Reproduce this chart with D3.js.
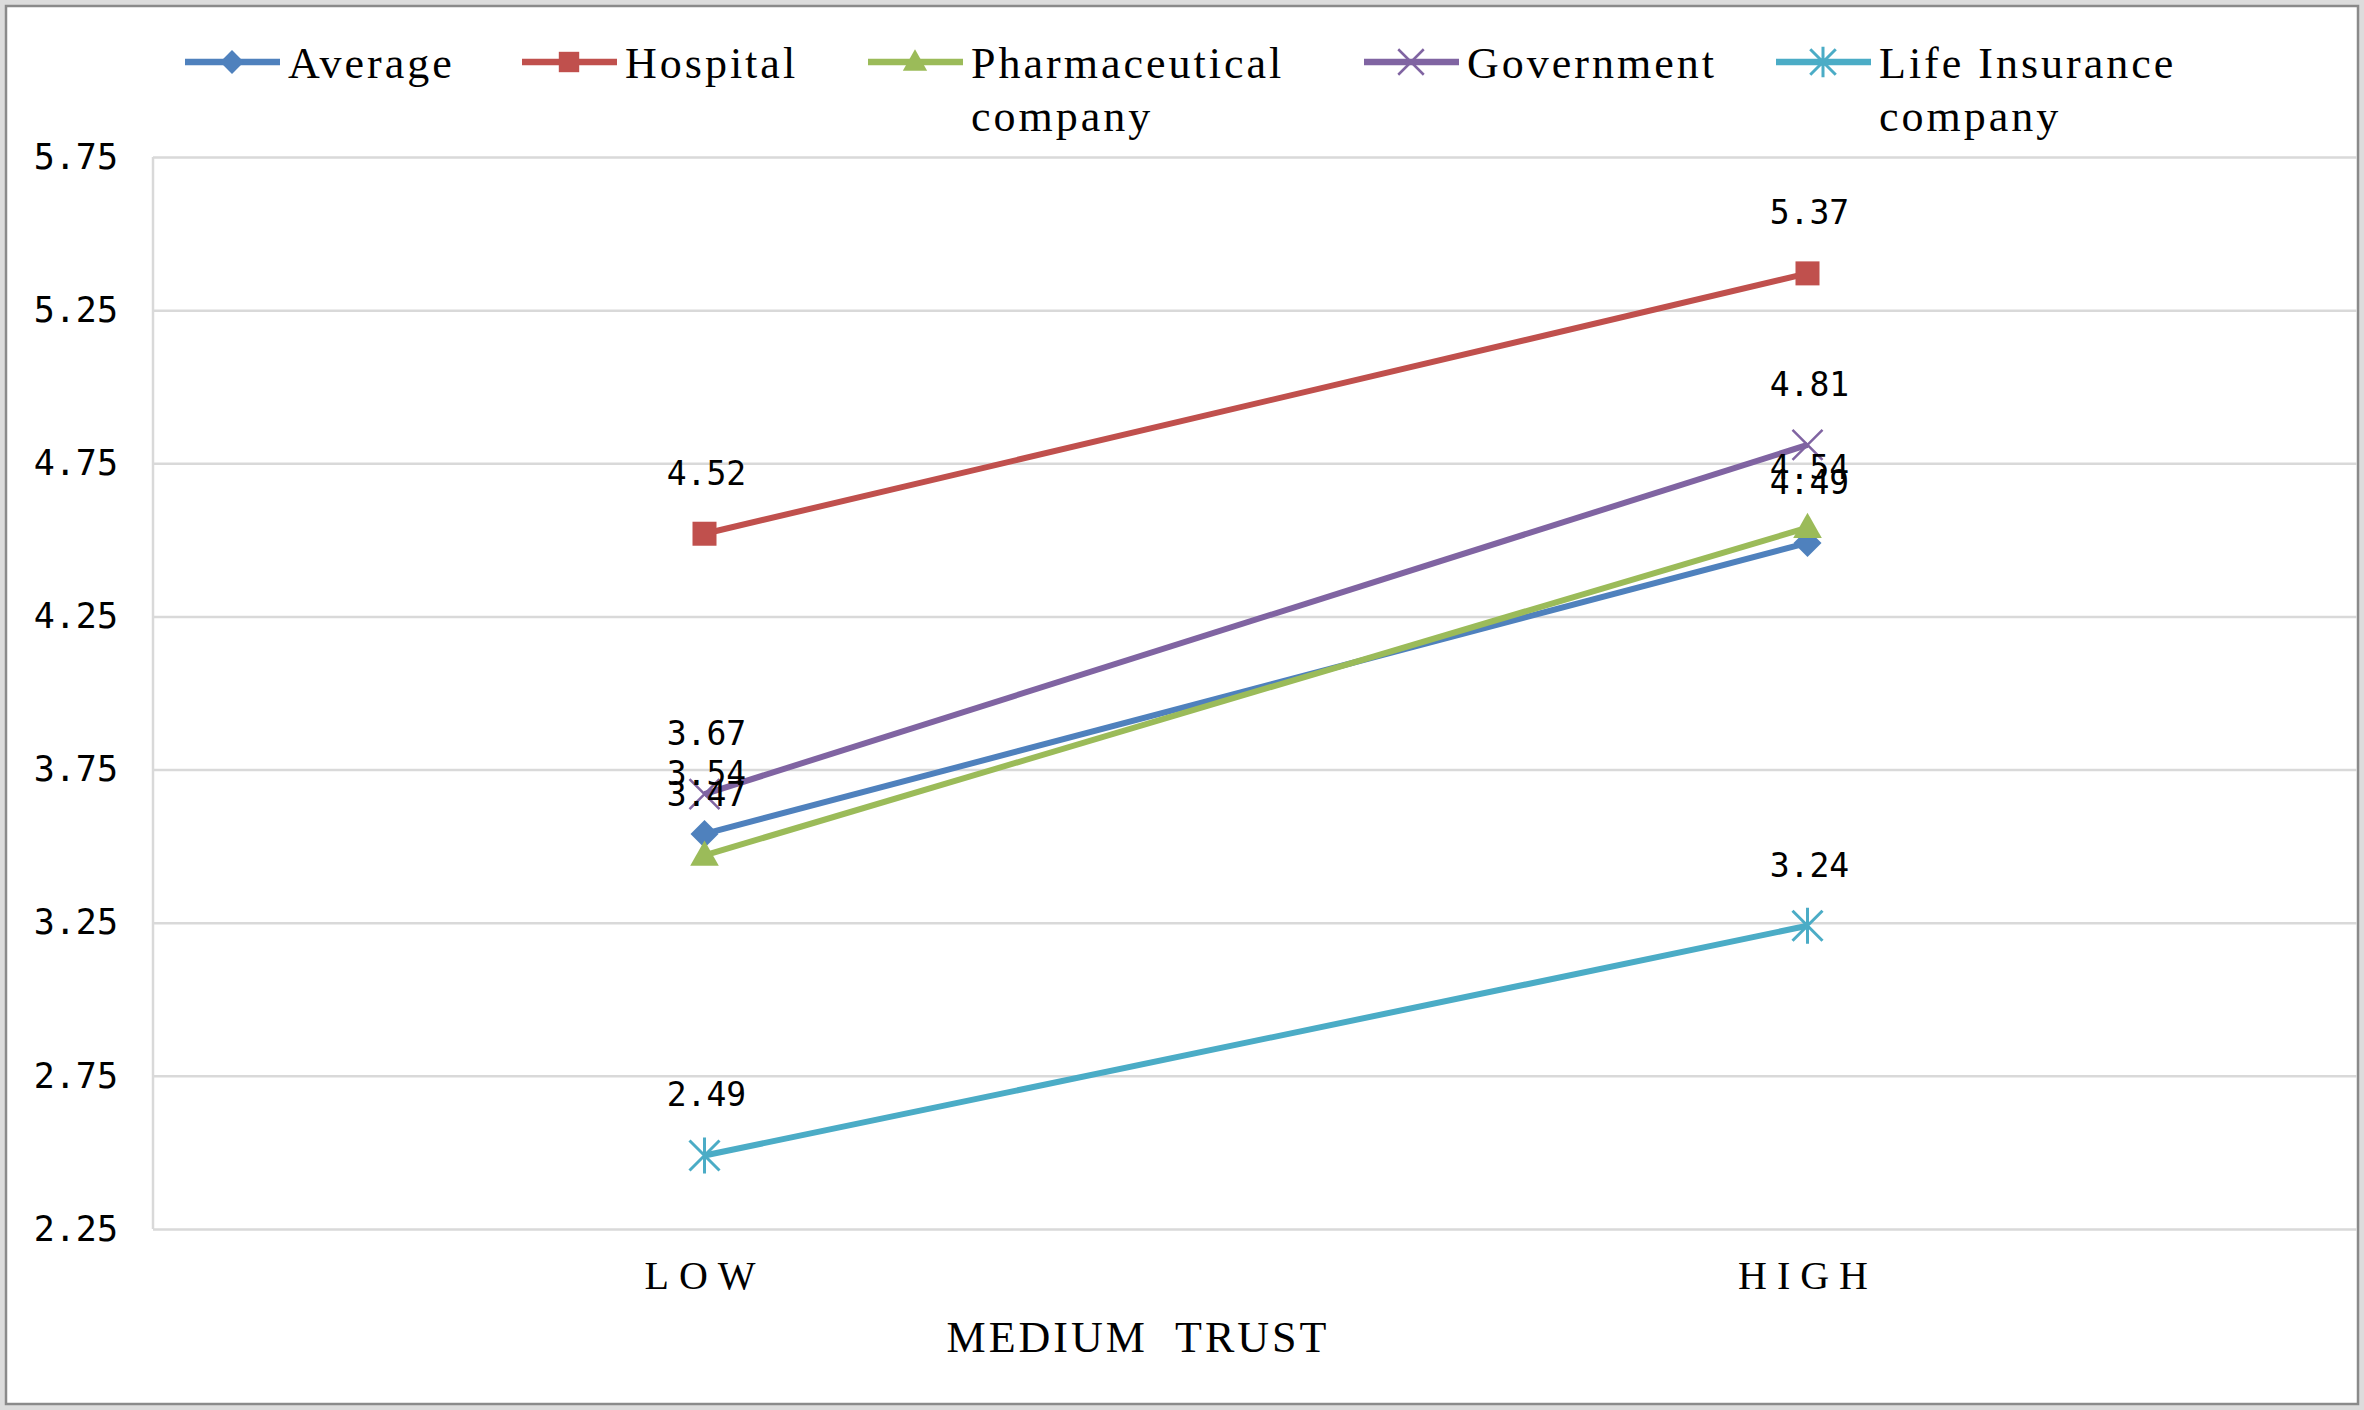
<!DOCTYPE html>
<html><head><meta charset="utf-8">
<script src="https://cdn.jsdelivr.net/npm/d3@7"></script>
<style>html,body{margin:0;padding:0;background:#fff;}svg{display:block;}</style>
</head><body>
<script>
const categories = ["LOW", "HIGH"];
const seriesNames = ["Average", "Hospital", "Pharmaceutical company", "Government", "Life Insurance company"];
const averageValues = [3.54, 4.49];
const hospitalValues = [4.52, 5.37];
const pharmaValues = [3.47, 4.54];
const governmentValues = [3.67, 4.81];
const lifeInsuranceValues = [2.49, 3.24];
const yTicks = [2.25, 2.75, 3.25, 3.75, 4.25, 4.75, 5.25, 5.75];
const xAxisTitle = "MEDIUM  TRUST";

const seriesValues = [averageValues, hospitalValues, pharmaValues, governmentValues, lifeInsuranceValues];
const colors = ["#4F81BD", "#C0504D", "#9BBB59", "#8064A2", "#4BACC6"];
const markers = ["diamond", "square", "triangle", "x", "star"];

const W = 2364, H = 1410;
const pLeft = 153, pRight = 2357, pTop = 157, pBottom = 1229;

const svg = d3.select("body").append("svg").attr("width", W).attr("height", H);

// outer frame
svg.append("rect").attr("x", 0).attr("y", 0).attr("width", W).attr("height", H).attr("fill", "#dcdcdc");
svg.append("rect").attr("x", 6).attr("y", 6).attr("width", W - 12).attr("height", H - 12)
  .attr("fill", "#fff").attr("stroke", "#8a8a8a").attr("stroke-width", 2.5);

const x = d3.scalePoint().domain(categories).range([pLeft, 2359]).padding(0.5);
const y = d3.scaleLinear().domain([2.25, 5.75]).range([pBottom, pTop]);

// gridlines
const grid = svg.append("g").attr("transform", `translate(${pLeft},0)`)
  .call(d3.axisLeft(y).tickValues(yTicks).tickSize(-(pRight - pLeft)).tickFormat(""));
grid.select(".domain").remove();
grid.selectAll(".tick line").attr("stroke", "#d9d9d9").attr("stroke-width", 2.5);
svg.append("line").attr("x1", pLeft).attr("x2", pLeft).attr("y1", pTop).attr("y2", pBottom)
  .attr("stroke", "#d9d9d9").attr("stroke-width", 2.5);

// y tick labels
const yAxis = svg.append("g").attr("transform", `translate(${pLeft},0)`)
  .call(d3.axisLeft(y).tickValues(yTicks).tickSize(0).tickPadding(35).tickFormat(d3.format(".2f")));
yAxis.select(".domain").remove();
yAxis.selectAll("text").attr("font-family", "DejaVu Sans Mono").attr("font-size", 35).attr("fill", "#000");

// x axis labels
const xAxis = svg.append("g").attr("transform", `translate(0,${pBottom})`)
  .call(d3.axisBottom(x).tickSize(0).tickPadding(24));
xAxis.select(".domain").remove();
xAxis.selectAll("text").attr("font-family", "Liberation Serif").attr("font-size", 40)
  .attr("letter-spacing", 10).attr("fill", "#000").attr("dy", "0.9em");

svg.append("text").attr("x", 1138).attr("y", 1352).attr("text-anchor", "middle")
  .attr("font-family", "Liberation Serif").attr("font-size", 44).attr("letter-spacing", 3)
  .attr("fill", "#000").style("white-space", "pre").text(xAxisTitle);

function drawMarker(g, type, cx, cy, color, s) {
  if (type === "diamond") {
    g.append("path").attr("d", `M${cx},${cy - s}L${cx + s},${cy}L${cx},${cy + s}L${cx - s},${cy}Z`).attr("fill", color);
  } else if (type === "square") {
    g.append("rect").attr("x", cx - s).attr("y", cy - s).attr("width", 2 * s).attr("height", 2 * s).attr("fill", color);
  } else if (type === "triangle") {
    g.append("path").attr("d", `M${cx},${cy - s * 1.15}L${cx + s * 1.1},${cy + s * 0.8}L${cx - s * 1.1},${cy + s * 0.8}Z`).attr("fill", color);
  } else if (type === "x") {
    g.append("path").attr("d", `M${cx - s},${cy - s}L${cx + s},${cy + s}M${cx + s},${cy - s}L${cx - s},${cy + s}`)
      .attr("stroke", color).attr("stroke-width", 2.5).attr("fill", "none");
  } else if (type === "star") {
    g.append("path").attr("d", `M${cx - s},${cy - s}L${cx + s},${cy + s}M${cx + s},${cy - s}L${cx - s},${cy + s}M${cx},${cy - s * 1.2}L${cx},${cy + s * 1.2}`)
      .attr("stroke", color).attr("stroke-width", 3).attr("fill", "none");
  }
}
const markerSize = [14, 12, 13, 15, 15];

const line = d3.line().x((d, i) => x(categories[i])).y(d => y(d));

const plot = svg.append("g");
seriesValues.forEach((vals, si) => {
  plot.append("path").datum(vals).attr("d", line).attr("fill", "none")
    .attr("stroke", colors[si]).attr("stroke-width", 6);
});
seriesValues.forEach((vals, si) => {
  vals.forEach((v, i) => drawMarker(plot, markers[si], x(categories[i]), y(v), colors[si], markerSize[si]));
});
// data labels
seriesValues.forEach((vals, si) => {
  vals.forEach((v, i) => {
    plot.append("text").attr("x", x(categories[i]) + 2).attr("y", y(v) - 49)
      .attr("text-anchor", "middle").attr("font-family", "DejaVu Sans Mono").attr("font-size", 33)
      .attr("fill", "#000").text(d3.format(".2f")(v));
  });
});

// legend
const legendX = [185, 522, 868, 1364, 1776];
const legendY = 62;
seriesNames.forEach((name, si) => {
  const g = svg.append("g");
  const x0 = legendX[si];
  g.append("line").attr("x1", x0).attr("x2", x0 + 95).attr("y1", legendY).attr("y2", legendY)
    .attr("stroke", colors[si]).attr("stroke-width", 6.5);
  drawMarker(g, markers[si], x0 + 47, legendY, colors[si], markerSize[si] * 0.85);
  const words = name.split(" ");
  let lines = [name];
  if (words.length > 1 && words[words.length - 1] === "company") {
    lines = [words.slice(0, -1).join(" "), "company"];
  }
  lines.forEach((t, li) => {
    g.append("text").attr("x", x0 + 103).attr("y", 78 + li * 53)
      .attr("font-family", "Liberation Serif").attr("font-size", 44).attr("letter-spacing", 3)
      .attr("fill", "#000").text(t);
  });
});
</script>
</body></html>
